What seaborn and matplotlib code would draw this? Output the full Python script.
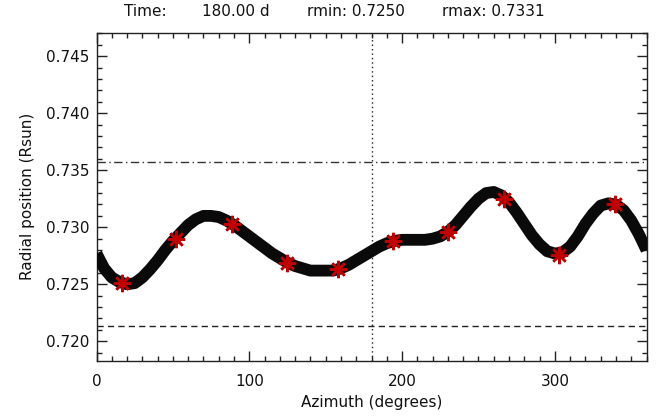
import numpy as np
import pandas as pd
import matplotlib
matplotlib.use("Agg")
import matplotlib.pyplot as plt
import seaborn as sns

# --- data ---
azimuth = list(range(0, 361, 5))
radius = [
    0.7277, 0.7264, 0.7256, 0.7252, 0.7250, 0.7251, 0.7256, 0.7263, 0.7271, 0.7280,
    0.7288, 0.7295, 0.7302, 0.7307, 0.7310, 0.7310, 0.7309, 0.7306, 0.7302, 0.7297,
    0.7292, 0.7287, 0.7282, 0.7277, 0.7273, 0.7269, 0.7266, 0.7264, 0.7262, 0.7262,
    0.7262, 0.7262, 0.7264, 0.7267, 0.7271, 0.7275, 0.7279, 0.7283, 0.7286, 0.7288,
    0.7289, 0.7289, 0.7289, 0.7289, 0.7290, 0.7292, 0.7296, 0.7302, 0.7310, 0.7318,
    0.7325, 0.7330, 0.7331, 0.7328, 0.7322, 0.7313, 0.7303, 0.7293, 0.7285, 0.7279,
    0.7277, 0.7278, 0.7283, 0.7292, 0.7303, 0.7312, 0.7319, 0.7321, 0.7320, 0.7315,
    0.7306, 0.7294, 0.7280,
]
marker_az = [16.5, 52.0, 88.5, 124.5, 158.2, 194.2, 230.2, 266.9, 302.9, 339.3]
marker_r = [0.7251, 0.7290, 0.7303, 0.7269, 0.7263, 0.7288, 0.7296, 0.7325, 0.7276, 0.7320]
upper_ref = 0.7357
lower_ref = 0.7213
time_ref = 180.0
title_parts = ["Time:", "180.00 d", "rmin: 0.7250", "rmax: 0.7331"]
xticks = [0, 100, 200, 300]
yticks = [0.720, 0.725, 0.730, 0.735, 0.740, 0.745]

sns.set_theme(style="ticks")
plt.rcParams["font.family"] = ["DejaVu Sans"]

W, H = 661, 419
fig = plt.figure(figsize=(W / 100, H / 100), dpi=100)
ax = fig.add_axes([96.5 / W, 1 - 361 / H, 550 / W, (361 - 32.7) / H])

curve = pd.DataFrame({"az": azimuth, "r": radius})
stars = pd.DataFrame({"az": marker_az, "r": marker_r})

sns.lineplot(data=curve, x="az", y="r", ax=ax, color="#0a0a0a", lw=8.5,
             estimator=None, sort=False, solid_capstyle="butt", zorder=3)
sns.lineplot(data=stars, x="az", y="r", ax=ax, color="#c00000",
             linestyle="none", marker=(8, 2, 0), markersize=12.5,
             markeredgewidth=1.8, markeredgecolor="#c00000",
             estimator=None, sort=False, zorder=4)

ax.axhline(upper_ref, color="#333333", lw=1.0, linestyle=(0, (6, 2.5, 1, 2.5)), zorder=2)
ax.axhline(lower_ref, color="#222222", lw=1.0, linestyle=(0, (4.5, 3)), zorder=2)
ax.axvline(time_ref, color="#222222", lw=1.0, linestyle=(0, (1, 2.2)), zorder=2)

ax.set_xlim(0, 360)
ax.set_ylim(0.71827, 0.74707)
ax.set_xticks(xticks)
ax.set_yticks(yticks)
ax.set_xticklabels([str(t) for t in xticks])
ax.set_yticklabels([f"{t:.3f}" for t in yticks])
ax.xaxis.set_minor_locator(matplotlib.ticker.MultipleLocator(10))
ax.yaxis.set_minor_locator(matplotlib.ticker.MultipleLocator(0.001))
ax.tick_params(which="both", direction="in", top=True, right=True,
               color="#222222", width=1.0, labelsize=11, labelcolor="#111111")
ax.tick_params(which="major", length=7.2)
ax.tick_params(which="minor", length=3.6)
ax.tick_params(axis="x", which="major", pad=9)
ax.tick_params(axis="y", which="major", pad=5)
for s in ax.spines.values():
    s.set_color("#222222")
    s.set_linewidth(1.0)
    s.set_visible(True)

ax.set_xlabel("Azimuth (degrees)", fontsize=11, color="#111111", labelpad=5)
ax.set_ylabel("Radial position (Rsun)", fontsize=11, color="#111111", labelpad=8)

xs = [124, 202, 307, 442]
for txt, x in zip(title_parts, xs):
    fig.text(x / W, 1 - 12 / H, txt, fontsize=11, color="#111111",
             ha="left", va="center")

fig.savefig("out.png", dpi=100)
